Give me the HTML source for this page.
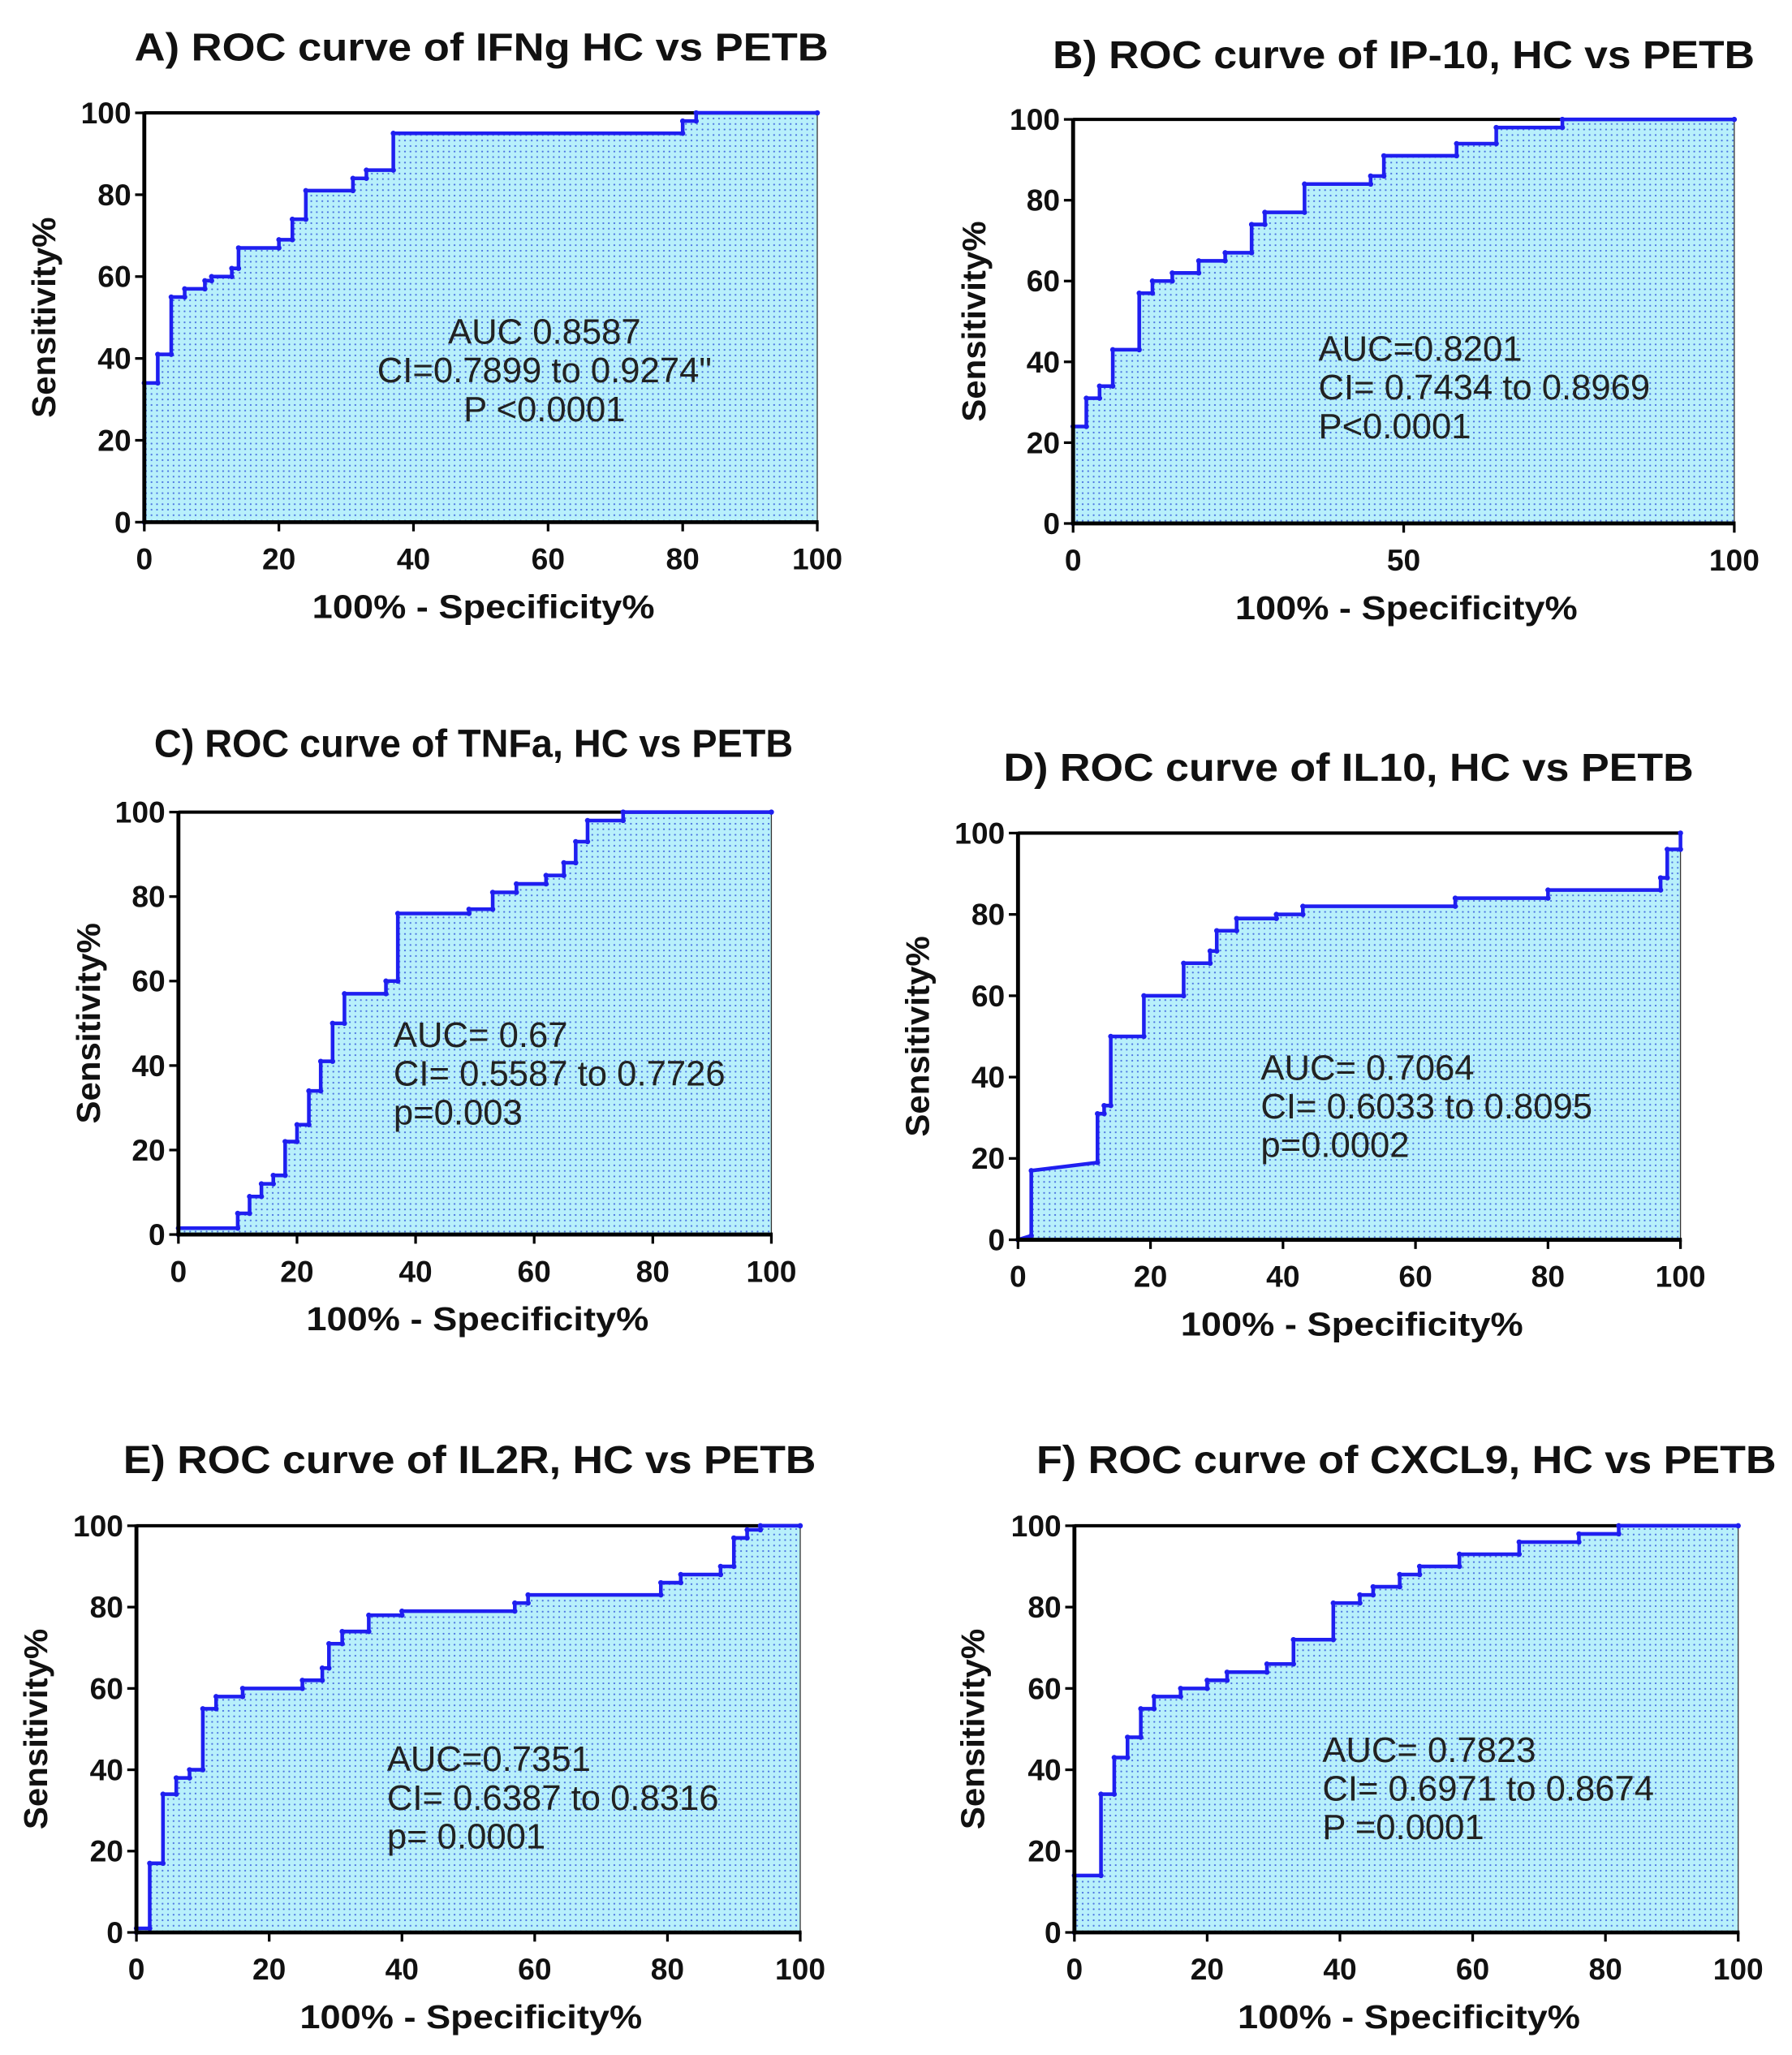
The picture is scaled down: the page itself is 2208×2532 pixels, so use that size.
<!DOCTYPE html>
<html><head><meta charset="utf-8"><style>
html,body{margin:0;padding:0;background:#fff;}
svg{display:block;font-family:"Liberation Sans",Arial,sans-serif;}
</style></head><body>
<svg id="root" xmlns="http://www.w3.org/2000/svg" width="2208" height="2532" viewBox="0 0 1366 1566.4">
<defs>
<pattern id="dots" width="4.2" height="4.2" patternUnits="userSpaceOnUse">
<rect width="4.2" height="4.2" fill="#b8f0fb"/>
<circle cx="2.1" cy="2.1" r="0.7" fill="#4a72e0"/>
</pattern>
</defs>
</svg>
<script>
const panelTitles = ["A) ROC curve of IFNg HC vs PETB","B) ROC curve of IP-10, HC vs PETB","C) ROC curve of TNFa, HC vs PETB","D) ROC curve of IL10, HC vs PETB","E) ROC curve of IL2R, HC vs PETB","F) ROC curve of CXCL9, HC vs PETB"];
const annotations = [
 ["AUC 0.8587","CI=0.7899 to 0.9274\"","P <0.0001"],
 ["AUC=0.8201","CI= 0.7434 to 0.8969","P<0.0001"],
 ["AUC= 0.67","CI= 0.5587 to 0.7726","p=0.003"],
 ["AUC= 0.7064","CI= 0.6033 to 0.8095","p=0.0002"],
 ["AUC=0.7351","CI= 0.6387 to 0.8316","p= 0.0001"],
 ["AUC= 0.7823","CI= 0.6971 to 0.8674","P =0.0001"]];
const yTicks = [0,20,40,60,80,100];
const xTicksStd = [0,20,40,60,80,100];
const xTicksB = [0,50,100];
const rocA = [[0,0],[0,34],[2,34],[2,41],[4,41],[4,55],[6,55],[6,57],[9,57],[9,59],[10,59],[10,60],[13,60],[13,62],[14,62],[14,67],[20,67],[20,69],[22,69],[22,74],[24,74],[24,81],[31,81],[31,84],[33,84],[33,86],[37,86],[37,95],[80,95],[80,98],[82,98],[82,100],[100,100]];
const rocB = [[0,0],[0,24],[2,24],[2,31],[4,31],[4,34],[6,34],[6,43],[10,43],[10,57],[12,57],[12,60],[15,60],[15,62],[19,62],[19,65],[23,65],[23,67],[27,67],[27,74],[29,74],[29,77],[35,77],[35,84],[45,84],[45,86],[47,86],[47,91],[58,91],[58,94],[64,94],[64,98],[74,98],[74,100],[100,100]];
const rocC = [[0,0],[0,1.5],[10,1.5],[10,5],[12,5],[12,9],[14,9],[14,12],[16,12],[16,14],[18,14],[18,22],[20,22],[20,26],[22,26],[22,34],[24,34],[24,41],[26,41],[26,50],[28,50],[28,57],[35,57],[35,60],[37,60],[37,76],[49,76],[49,77],[53,77],[53,81],[57,81],[57,83],[62,83],[62,85],[65,85],[65,88],[67,88],[67,93],[69,93],[69,98],[75,98],[75,100],[100,100]];
const rocD = [[0,0],[2,1],[2,17],[12,19],[12,31],[13,31],[13,33],[14,33],[14,50],[19,50],[19,60],[25,60],[25,68],[29,68],[29,71],[30,71],[30,76],[33,76],[33,79],[39,79],[39,80],[43,80],[43,82],[66,82],[66,84],[80,84],[80,86],[97,86],[97,89],[98,89],[98,96],[100,96],[100,100]];
const rocE = [[0,0],[0,1],[2,1],[2,17],[4,17],[4,34],[6,34],[6,38],[8,38],[8,40],[10,40],[10,55],[12,55],[12,58],[16,58],[16,60],[25,60],[25,62],[28,62],[28,65],[29,65],[29,71],[31,71],[31,74],[35,74],[35,78],[40,78],[40,79],[57,79],[57,81],[59,81],[59,83],[79,83],[79,86],[82,86],[82,88],[88,88],[88,90],[90,90],[90,97],[92,97],[92,99],[94,99],[94,100],[100,100]];
const rocF = [[0,0],[0,14],[4,14],[4,34],[6,34],[6,43],[8,43],[8,48],[10,48],[10,55],[12,55],[12,58],[16,58],[16,60],[20,60],[20,62],[23,62],[23,64],[29,64],[29,66],[33,66],[33,72],[39,72],[39,81],[43,81],[43,83],[45,83],[45,85],[49,85],[49,88],[52,88],[52,90],[58,90],[58,93],[67,93],[67,96],[76,96],[76,98],[82,98],[82,100],[100,100]];
const rocData = [rocA,rocB,rocC,rocD,rocE,rocF];

const L = [
 {x0:110,x1:623,y0:86,y1:398,tx:367,ty:35,tw:529,ylx:33,ann:{x:415,y:253,anchor:"middle"},xt:xTicksStd},
 {x0:818,x1:1322,y0:91,y1:399,tx:1070,ty:41,tw:535,ylx:742,ann:{x:1005,y:266,anchor:"start"},xt:xTicksB},
 {x0:136,x1:588,y0:619,y1:941,tx:361,ty:566,tw:487,ylx:67,ann:{x:300,y:789,anchor:"start"},xt:xTicksStd},
 {x0:776,x1:1281,y0:635,y1:945,tx:1028,ty:584,tw:526,ylx:699,ann:{x:961,y:814,anchor:"start"},xt:xTicksStd},
 {x0:104,x1:610,y0:1163,y1:1473,tx:358,ty:1112,tw:528,ylx:27,ann:{x:295,y:1341,anchor:"start"},xt:xTicksStd},
 {x0:819,x1:1325,y0:1163,y1:1473,tx:1072,ty:1112,tw:564,ylx:741,ann:{x:1008,y:1334,anchor:"start"},xt:xTicksStd}];
const NS="http://www.w3.org/2000/svg";
const root=document.getElementById('root');
function mk(tag,attrs,parent){const e=document.createElementNS(NS,tag);for(const k in attrs)e.setAttribute(k,attrs[k]);parent.appendChild(e);return e;}
const names=["ifng","ip10","tnfa","il10","il2r","cxcl9"];
rocData.forEach((pts,i)=>{
 const g=L[i];
 const sx=v=>g.x0+(g.x1-g.x0)*v/100;
 const sy=v=>g.y1-(g.y1-g.y0)*v/100;
 const grp=mk('g',{},root);
 
 
 const t=mk('text',{x:g.tx,y:g.ty+11,'text-anchor':'middle','font-size':30,'font-weight':'bold',fill:'#111',textLength:g.tw,lengthAdjust:'spacingAndGlyphs'},grp);
 t.textContent=panelTitles[i];
 
 
 let d='M'+sx(pts[0][0])+','+sy(pts[0][1]);
 pts.forEach(p=>{d+=' L'+sx(p[0])+','+sy(p[1]);});
 const area=mk('path',{d:d+' L'+sx(100)+','+sy(0)+' Z',fill:'url(#dots)'},grp);
 
 
 mk('line',{x1:g.x1,y1:g.y0,x2:g.x1,y2:g.y1,stroke:'#333','stroke-width':0.8},grp);
 mk('line',{x1:g.x0,y1:g.y0,x2:g.x1,y2:g.y0,stroke:'#000','stroke-width':2.5},grp);
 const curve=mk('path',{d:d,fill:'none',stroke:'#1f1ff0','stroke-width':2.8},grp);
 
 
 pts.forEach(p=>{const c=mk('circle',{cx:sx(p[0]),cy:sy(p[1]),r:2,fill:'#1f1ff0'},grp);
  
  });
 mk('line',{x1:g.x0,y1:g.y0-1,x2:g.x0,y2:g.y1+1,stroke:'#000','stroke-width':3},grp);
 mk('line',{x1:g.x0-1,y1:g.y1,x2:g.x1+1,y2:g.y1,stroke:'#000','stroke-width':3},grp);
 yTicks.forEach(v=>{
  mk('line',{x1:g.x0-7,y1:sy(v),x2:g.x0,y2:sy(v),stroke:'#000','stroke-width':2},grp);
  const tl=mk('text',{x:g.x0-10,y:sy(v)+8,'text-anchor':'end','font-size':23,'font-weight':'bold',fill:'#111'},grp);
  tl.textContent=v;
  
  
 });
 g.xt.forEach(v=>{
  mk('line',{x1:sx(v),y1:g.y1,x2:sx(v),y2:g.y1+7,stroke:'#000','stroke-width':2},grp);
  const tl=mk('text',{x:sx(v),y:g.y1+36,'text-anchor':'middle','font-size':23,'font-weight':'bold',fill:'#111'},grp);
  tl.textContent=v;
  
  
 });
 const xt=mk('text',{x:(g.x0+g.x1)/2+2,y:g.y1+73,'text-anchor':'middle','font-size':25,'font-weight':'bold',fill:'#111',textLength:261,lengthAdjust:'spacingAndGlyphs'},grp);
 xt.textContent='100% - Specificity%';
 
 
 const ycy=(g.y0+g.y1)/2;
 const yt=mk('text',{x:g.ylx,y:ycy,'text-anchor':'middle','font-size':25,'font-weight':'bold',fill:'#111',textLength:153,lengthAdjust:'spacingAndGlyphs',transform:'rotate(-90 '+g.ylx+' '+ycy+') translate(0 9)'},grp);
 yt.textContent='Sensitivity%';
 
 
 annotations[i].forEach((s,k)=>{
  const a=mk('text',{x:g.ann.x,y:g.ann.y+9+k*29.5,'text-anchor':g.ann.anchor,'font-size':27,fill:'#222'},grp);
  a.textContent=s;
  
  
 });
});
</script>
</body></html>
